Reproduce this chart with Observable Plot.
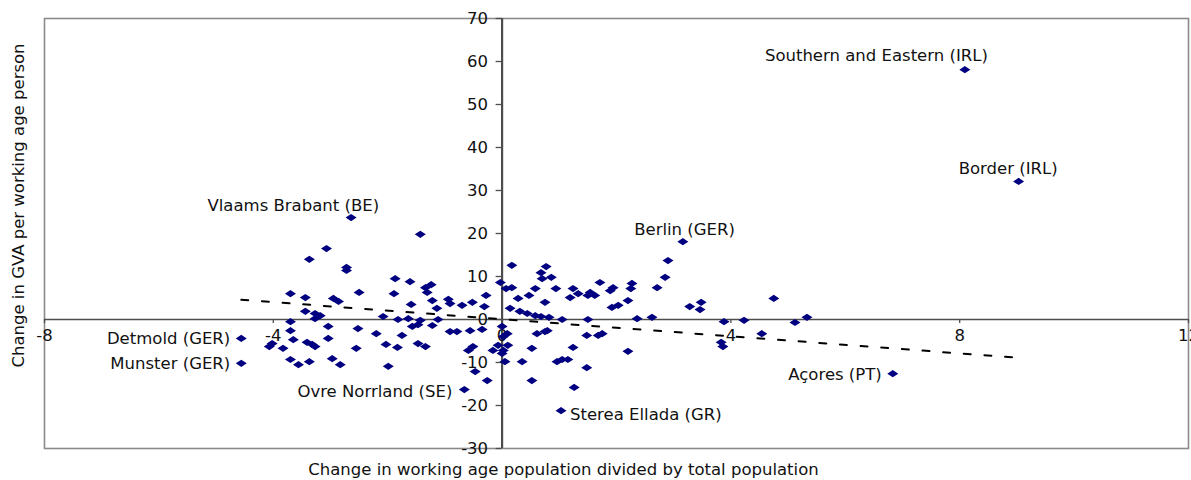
<!DOCTYPE html>
<html>
<head>
<meta charset="utf-8">
<script src="https://cdn.jsdelivr.net/npm/d3@7"></script>
<script src="https://cdn.jsdelivr.net/npm/@observablehq/plot@0.6"></script>
<style>
  html, body { margin: 0; padding: 0; background: #fff; overflow: hidden; }
  svg { display: block; }
</style>
</head>
<body>
<div id="chart"></div>
<script>
// ---------- data ----------
const xTitle = "Change in working age population divided by total population";
const yTitle = "Change in GVA per working age person";

const xTickValues = [-8, -4, 0, 4, 8, 12];
const xTickLabels = ["-8", "-4", "0", "4", "8", "12"];
const yTickValues = [-30, -20, -10, 0, 10, 20, 30, 40, 50, 60, 70];
const yTickLabels = ["-30", "-20", "-10", "0", "10", "20", "30", "40", "50", "60", "70"];

// unlabelled regions
const regionX = [
  -1.43, -3.07, -3.37, -2.72, -2.72, -1.87, -1.61, -1.34, -1.24, -1.31,
  -3.70, -3.44, -2.95, -2.86, -2.50, -1.89, -1.22, -0.94, -0.91, -1.59,
  -1.14, -3.44, -3.27, -3.18, -2.08, -1.82, -1.64, -1.43, -3.70, -1.12,
  -3.27, -0.70, -0.52, -0.28, -0.31, -0.03, -3.04, -2.52, -2.20, -3.70,
  -3.65, -3.04, -4.02, -4.07, -3.83, -3.41, -3.32, -3.27, -2.55, -2.03,
  -1.83, -1.75, -1.57, -1.47, -1.22, -0.91, -1.47, -1.34, -3.70, -3.56,
  -3.37, -2.97, -2.83, -1.99, -0.79, -0.56, -0.35, -0.59, -0.51, -0.16,
  -0.07, -0.47, -0.26,
  0.17, 0.77, 0.68, 0.70, 0.86, 0.07, 0.17, 0.94, 0.58, 0.28,
  0.47, 0.14, 0.75, 0.31, 0.44, 0.58, 0.68, 0.82, 1.24, 1.33,
  1.19, 1.54, 1.62, 1.50, 1.71, 1.94, 1.89, 1.92, 2.03, 2.20,
  2.27, 2.25, 1.05, 1.50, 2.36, 2.90, 2.85, 2.71, 4.75, 3.28,
  3.48, 3.46, 2.62, 3.88, 4.23, 5.33, 5.12, 3.83, 3.86, 4.54,
  0.00, 0.09, 0.02, 0.61, 0.75, 0.79, 1.48, 1.68, 1.75, 0.02,
  0.00, 0.10, 0.52, 1.24, 2.20, 0.05, 0.35, 0.96, 1.05, 1.15,
  1.48, 0.52, 1.26
];
const regionY = [
  19.8, 16.5, 14.0, 12.1, 11.4, 9.5, 8.8, 7.4, 8.1, 6.3,
  6.0, 5.1, 4.9, 4.2, 6.3, 6.0, 4.4, 4.7, 3.7, 3.5,
  2.6, 1.9, 1.4, 0.9, 0.7, 0.0, 0.2, -0.2, -0.5, 0.0,
  0.2, 3.3, 4.0, 5.6, 3.0, 8.6, -1.6, -2.1, -3.3, -2.6,
  -4.7, -4.4, -5.6, -6.3, -6.7, -5.3, -5.8, -6.3, -6.7, -5.8,
  -6.5, -3.7, -1.6, -1.2, -1.4, -2.8, -5.6, -6.3, -9.3, -10.5,
  -9.8, -9.1, -10.5, -10.9, -2.8, -2.6, -2.3, -7.2, -6.3, -7.2,
  -6.0, -12.1, -14.2,
  12.6, 12.3, 10.9, 9.5, 9.8, 7.2, 7.4, 7.2, 7.2, 4.9,
  5.6, 2.6, 4.0, 1.9, 1.4, 0.9, 0.7, 0.5, 7.2, 6.0,
  5.1, 6.3, 5.6, 5.6, 8.6, 7.4, 6.7, 2.8, 3.3, 4.4,
  8.4, 7.2, 0.0, 0.0, 0.2, 13.7, 9.8, 7.4, 4.9, 3.0,
  4.0, 2.3, 0.5, -0.5, -0.2, 0.5, -0.7, -5.3, -6.3, -3.3,
  -1.6, -3.3, -4.0, -3.3, -2.8, -2.6, -3.7, -3.7, -3.3, -7.2,
  -7.9, -6.0, -6.7, -6.5, -7.4, -9.8, -9.8, -9.8, -9.3, -9.3,
  -11.2, -14.2, -15.8
];

// labelled regions
const labelNames = [
  "Southern and Eastern (IRL)", "Border (IRL)", "Vlaams Brabant (BE)", "Berlin (GER)",
  "Detmold (GER)", "Munster (GER)", "Ovre Norrland (SE)", "Sterea Ellada (GR)", "Açores (PT)"
];
const labelX = [8.09, 9.03, -2.64, 3.16, -4.56, -4.56, -0.66, 1.03, 6.83];
const labelY = [58.1, 32.1, 23.7, 18.1, -4.4, -10.2, -16.3, -21.2, -12.6];

// linear trend line end points (as drawn in the source)
const trendX = [-4.56, 9.03];
const trendY = [4.6, -8.9];

// ---------- layout (not data) ----------
const labelPlacement = {
  "Southern and Eastern (IRL)": {anchor: "end", dx: 23, dy: -14},
  "Border (IRL)": {anchor: "end", dx: 39, dy: -13},
  "Vlaams Brabant (BE)": {anchor: "end", dx: 28, dy: -12},
  "Berlin (GER)": {anchor: "end", dx: 52, dy: -12},
  "Detmold (GER)": {anchor: "end", dx: -11, dy: 0},
  "Munster (GER)": {anchor: "end", dx: -11, dy: 0},
  "Ovre Norrland (SE)": {anchor: "end", dx: -12, dy: 2},
  "Sterea Ellada (GR)": {anchor: "start", dx: 9, dy: 4},
  "Açores (PT)": {anchor: "end", dx: -11, dy: 1}
};

const points = regionX.map((x, i) => ({x, y: regionY[i]}));
const labelled = labelNames.map((name, i) => ({name, x: labelX[i], y: labelY[i]}));
const trend = trendX.map((x, i) => ({x, y: trendY[i]}));

const flatDiamond = {
  draw(context) {
    context.moveTo(-5.5, 0);
    context.lineTo(0, -3.6);
    context.lineTo(5.5, 0);
    context.lineTo(0, 3.6);
    context.closePath();
  }
};

const axisColor = "#4d4d4d";
const navy = "#000080";

const labelMarks = labelled.map(d => {
  const p = labelPlacement[d.name];
  return Plot.text([d], {x: "x", y: "y", text: "name", textAnchor: p.anchor, dx: p.dx, dy: p.dy, fill: "#111"});
});

const chart = Plot.plot({
  width: 1191,
  height: 480,
  marginLeft: 44,
  marginRight: 3,
  marginTop: 18,
  marginBottom: 32,
  style: {fontFamily: "'DejaVu Sans', sans-serif", fontSize: "16.5px", background: "#fff", color: "#111"},
  x: {domain: [-8, 12], axis: null},
  y: {domain: [-30, 70], axis: null},
  marks: [
    Plot.frame({stroke: "#8a8a8a", strokeWidth: 1.6}),
    Plot.ruleY([0], {stroke: axisColor, strokeWidth: 1.3}),
    Plot.ruleX([0], {stroke: axisColor, strokeWidth: 2.2}),
    Plot.ruleX(xTickValues, {x: d => d, y1: 0, y2: 0, insetBottom: -4, stroke: axisColor, strokeWidth: 1.3}),
    Plot.ruleY(yTickValues, {y: d => d, x1: 0, x2: 0, insetLeft: -6, stroke: axisColor, strokeWidth: 1.3}),
    Plot.text(xTickValues, {x: d => d, y: 0, text: (d, i) => xTickLabels[i], dy: 16, fill: "#111"}),
    Plot.text(yTickValues, {x: 0, y: d => d, text: (d, i) => yTickLabels[i], dx: -14, textAnchor: "end", fill: "#111"}),
    Plot.dot(points, {x: "x", y: "y", symbol: flatDiamond, fill: navy, stroke: "none"}),
    Plot.dot(labelled, {x: "x", y: "y", symbol: flatDiamond, fill: navy, stroke: "none"}),
    Plot.line(trend, {x: "x", y: "y", stroke: "#000", strokeWidth: 2, strokeDasharray: "7,13.7"}),
    ...labelMarks,
    Plot.text([xTitle], {frameAnchor: "bottom", textAnchor: "middle", lineAnchor: "middle", dx: -53, dy: 21, fill: "#111"}),
    Plot.text([yTitle], {frameAnchor: "left", textAnchor: "middle", lineAnchor: "middle", rotate: -90, dx: -26, dy: -28, fill: "#111"})
  ]
});
document.getElementById("chart").appendChild(chart);
</script>
</body>
</html>
